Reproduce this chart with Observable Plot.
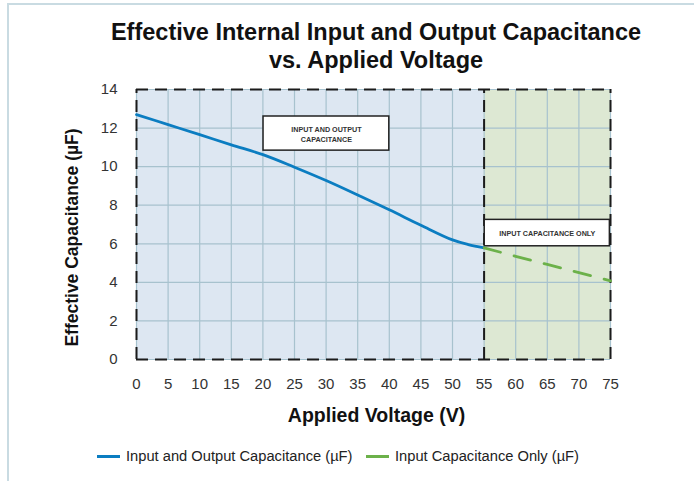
<!DOCTYPE html>
<html>
<head>
<meta charset="utf-8">
<script src="https://cdn.jsdelivr.net/npm/d3@7"></script>
<script src="https://cdn.jsdelivr.net/npm/@observablehq/plot@0.6"></script>
<style>
  html, body { margin: 0; padding: 0; background: #fff; }
  body { width: 694px; height: 481px; overflow: hidden; position: relative; font-family: "Liberation Sans", Arial, sans-serif; }
  #frame { position: absolute; left: 7px; top: 3px; width: 700px; height: 490px; border-left: 2px solid #c9dbe2; border-top: 2px solid #c9dbe2; }
  #title { position: relative; height: 75px; margin: 0; text-align: center; font-weight: bold; font-size: 23.5px; line-height: 28px; color: #111; padding-left: 58px; box-sizing: border-box; padding-top: 18px; }
  #chart { position: relative; height: 360px; }
  #legend { position: relative; height: 46px; font-size: 14.7px; color: #222; }
  .item { position: absolute; top: 13px; display: flex; align-items: center; white-space: nowrap; }
  .sw { width: 23px; height: 3px; margin-right: 6px; }
</style>
</head>
<body>
<div id="frame"></div>
<div id="title">Effective Internal Input and Output Capacitance<br>vs. Applied Voltage</div>
<div id="chart"></div>
<div id="legend"></div>
<script>
// Series: Input and Output Capacitance (µF)
const ioVoltage = [0, 5, 10, 15, 20, 25, 30, 35, 40, 45, 50, 52.5, 55];
const ioCap     = [12.7, 12.18, 11.66, 11.13, 10.62, 9.97, 9.28, 8.53, 7.76, 6.96, 6.2, 5.96, 5.79];
// Series: Input Capacitance Only (µF)
const inVoltage = [55, 60, 65, 70, 75];
const inCap     = [5.79, 5.35, 4.93, 4.5, 4.08];
// Regions
const regionStart = [0, 55];
const regionEnd   = [55, 75];
const regionName  = ["io", "in"];
// Annotations
const noteText = ["INPUT AND OUTPUT\nCAPACITANCE", "INPUT CAPACITANCE ONLY"];
const noteX1 = [20.1, 55.1];
const noteX2 = [40.0, 74.9];
const noteY1 = [10.83, 5.87];
const noteY2 = [12.6, 7.24];
// Ticks and labels
const xTicks = [0, 5, 10, 15, 20, 25, 30, 35, 40, 45, 50, 55, 60, 65, 70, 75];
const yTicks = [0, 2, 4, 6, 8, 10, 12, 14];
const frameX = [0, 55, 75];
const frameY = [0, 14];
const xLabel = "Applied Voltage (V)";
const yLabel = "Effective Capacitance (µF)";
const seriesNames = ["Input and Output Capacitance (µF)", "Input Capacitance Only (µF)"];

const BLUE = "#0b7dc1", GREEN = "#6cb14a";
const ioData = ioVoltage.map((v, i) => ({v, c: ioCap[i]}));
const inData = inVoltage.map((v, i) => ({v, c: inCap[i]}));
const regions = regionStart.map((s, i) => ({s, e: regionEnd[i], name: regionName[i]}));
const notes = noteText.map((t, i) => ({t, x1: noteX1[i], x2: noteX2[i], y1: noteY1[i], y2: noteY2[i]}));

const chart = Plot.plot({
  width: 694,
  height: 360,
  marginLeft: 136,
  marginRight: 84,
  marginTop: 14,
  marginBottom: 76,
  style: {fontFamily: "'Liberation Sans', Arial, sans-serif", fontSize: "15px", color: "#333", background: "transparent"},
  x: {domain: [0, 75]},
  y: {domain: [0, 14]},
  marks: [
    Plot.rect(regions, {x1: "s", x2: "e", y1: 0, y2: 14, fill: d => d.name === "io" ? "#dde7f2" : "#dde8d3"}),
    Plot.gridX(xTicks, {stroke: "#a7c2ce", strokeOpacity: 1, strokeWidth: 1.2}),
    Plot.gridY(yTicks, {stroke: "#a7c2ce", strokeOpacity: 1, strokeWidth: 1.2}),
    Plot.ruleY(frameY, {x1: 0, x2: 75, stroke: "#1b1b1b", strokeWidth: 2, strokeDasharray: "12,7"}),
    Plot.ruleX(frameX, {y1: 0, y2: 14, stroke: "#1b1b1b", strokeWidth: 2, strokeDasharray: "12,7"}),
    Plot.rect(notes, {x1: "x1", x2: "x2", y1: "y1", y2: "y2", fill: "white", stroke: "#222", strokeWidth: 1.5}),
    Plot.text(notes, {x: d => (d.x1 + d.x2) / 2, y: d => (d.y1 + d.y2) / 2, text: "t", fontSize: 7.2, fontWeight: "bold", fill: "#333", lineHeight: 1.4}),
    Plot.line(ioData, {x: "v", y: "c", stroke: BLUE, strokeWidth: 2.8, curve: "catmull-rom"}),
    Plot.line(inData, {x: "v", y: "c", stroke: GREEN, strokeWidth: 2.8, strokeDasharray: "17,14"}),
    Plot.axisY(yTicks, {tickSize: 0, tickPadding: 19, fontSize: 15, fill: "#333", label: null}),
    Plot.axisX(xTicks, {tickSize: 0, tickPadding: 19, fontSize: 15, fill: "#333", label: null}),
    Plot.text([yLabel], {frameAnchor: "left", dx: -64, dy: 13, rotate: -90, textAnchor: "middle", fontSize: 17.5, fontWeight: "bold", fill: "#111", text: d => d, lineAnchor: "middle"}),
    Plot.text([xLabel], {frameAnchor: "bottom", dx: 3, dy: 56, textAnchor: "middle", fontSize: 19.5, fontWeight: "bold", fill: "#111", text: d => d, lineAnchor: "middle"})
  ]
});
document.getElementById("chart").appendChild(chart);

const legend = document.getElementById("legend");
const legendLeft = [97, 366];
const legendColors = [BLUE, GREEN];
seriesNames.forEach((name, i) => {
  const it = document.createElement("div");
  it.className = "item";
  it.style.left = legendLeft[i] + "px";
  it.innerHTML = `<span class="sw" style="background:${legendColors[i]}"></span><span>${name}</span>`;
  legend.appendChild(it);
});
</script>
</body>
</html>
